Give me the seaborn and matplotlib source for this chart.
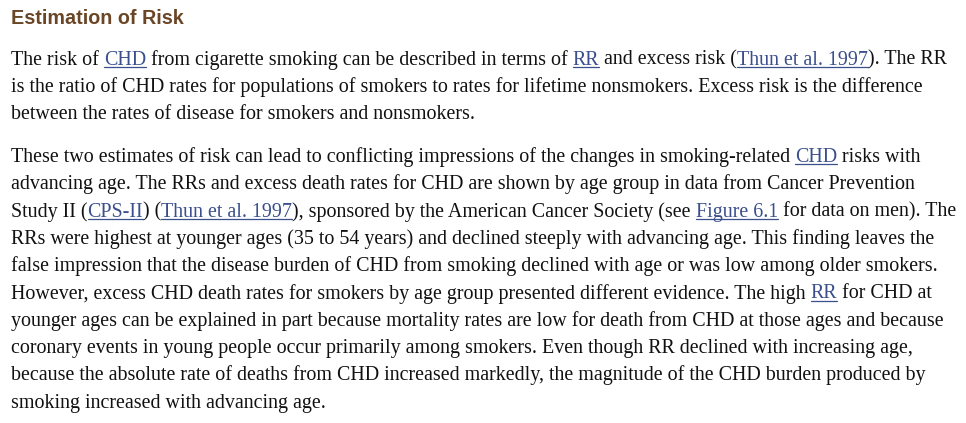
import re
import matplotlib.pyplot as plt
import seaborn as sns
from matplotlib.lines import Line2D

# ------------------------------
# Text content (links marked with [ ])
# ------------------------------
HEADING = 'Estimation of Risk'

PARA1_LINES = [
    'The risk of [CHD] from cigarette smoking can be described in terms of [RR] and excess risk ([Thun et al. 1997]). The RR',
    'is the ratio of CHD rates for populations of smokers to rates for lifetime nonsmokers. Excess risk is the difference',
    'between the rates of disease for smokers and nonsmokers.',
]

PARA2_LINES = [
    'These two estimates of risk can lead to conflicting impressions of the changes in smoking-related [CHD] risks with',
    'advancing age. The RRs and excess death rates for CHD are shown by age group in data from Cancer Prevention',
    'Study II ([CPS-II]) ([Thun et al. 1997]), sponsored by the American Cancer Society (see [Figure 6.1] for data on men). The',
    'RRs were highest at younger ages (35 to 54 years) and declined steeply with advancing age. This finding leaves the',
    'false impression that the disease burden of CHD from smoking declined with age or was low among older smokers.',
    'However, excess CHD death rates for smokers by age group presented different evidence. The high [RR] for CHD at',
    'younger ages can be explained in part because mortality rates are low for death from CHD at those ages and because',
    'coronary events in young people occur primarily among smokers. Even though RR declined with increasing age,',
    'because the absolute rate of deaths from CHD increased markedly, the magnitude of the CHD burden produced by',
    'smoking increased with advancing age.',
]

W, H = 966, 423
TEXT_COLOR = '#111111'
LINK_COLOR = '#3a4f8c'
HEAD_COLOR = '#6b4626'
BODY_FONT = dict(family='Liberation Serif', fontsize=14.4)
HEAD_FONT = dict(family='Liberation Sans', fontsize=14.2, fontweight='bold')

X0 = 11
HEAD_BASE = 24
PARA1_BASE = 64.5
PARA2_BASE = 162
LINE_STEP = 27.3

sns.set_theme(style='white')
plt.rcParams['font.family'] = ['Liberation Serif', 'DejaVu Serif']

fig = plt.figure(figsize=(W / 100, H / 100), dpi=100)
fig.patch.set_facecolor('white')
renderer = fig.canvas.get_renderer()


def text_width(s):
    t = fig.text(0, 0, s, **BODY_FONT)
    w = t.get_window_extent(renderer).width
    t.remove()
    return w


SPACE_W = text_width('a a') - text_width('aa')


def split_segments(line):
    # returns list of (text, is_link)
    parts = re.split(r'(\[[^\]]*\])', line)
    segs = []
    for p in parts:
        if not p:
            continue
        if p.startswith('['):
            segs.append((p[1:-1], True))
        else:
            segs.append((p, False))
    return segs


def draw_line(line, base):
    x = X0
    y = 1 - base / H
    for seg, is_link in split_segments(line):
        lead = len(seg) - len(seg.lstrip(' '))
        trail = len(seg) - len(seg.rstrip(' '))
        core = seg.strip(' ')
        x += lead * SPACE_W
        if core:
            t = fig.text(x / W, y, core, color=LINK_COLOR if is_link else TEXT_COLOR,
                         va='baseline', ha='left', **BODY_FONT)
            bb = t.get_window_extent(renderer)
            if is_link:
                uy = 1 - (base + 2.5) / H
                fig.add_artist(Line2D([x / W, (x + bb.width) / W], [uy, uy],
                                      color=LINK_COLOR, linewidth=0.9))
            x += bb.width
        x += trail * SPACE_W


fig.text(X0 / W, 1 - HEAD_BASE / H, HEADING, color=HEAD_COLOR,
         va='baseline', ha='left', **HEAD_FONT)

for i, line in enumerate(PARA1_LINES):
    draw_line(line, PARA1_BASE + i * LINE_STEP)

for i, line in enumerate(PARA2_LINES):
    draw_line(line, PARA2_BASE + i * LINE_STEP)

fig.savefig('out.png', dpi=100, facecolor='white')
